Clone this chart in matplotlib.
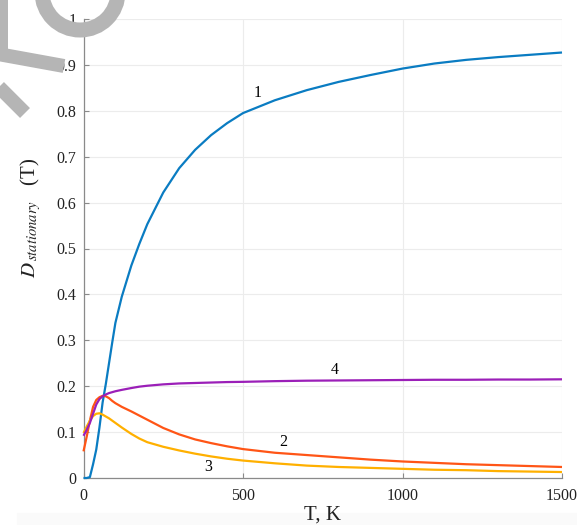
import matplotlib.pyplot as plt
from matplotlib.lines import Line2D
from matplotlib.patches import Rectangle, Ellipse
from matplotlib.ticker import FuncFormatter

plt.rcParams['font.family'] = ['Liberation Serif', 'DejaVu Serif']
plt.rcParams['mathtext.fontset'] = 'stix'

W, H = 577, 525

# temperature grid, K
T = [0, 10, 20, 30, 40, 50, 60, 70, 80, 90, 100, 120, 150, 175, 200, 250, 300,
     350, 400, 450, 500, 600, 700, 800, 900, 1000, 1100, 1200, 1300, 1400, 1500]

# stationary values for the four cases
D1 = [0, 0, 0.002, 0.03, 0.062, 0.11, 0.165, 0.205, 0.25, 0.295, 0.338, 0.395,
      0.463, 0.51, 0.553, 0.622, 0.675, 0.715, 0.747, 0.773, 0.795, 0.823, 0.845,
      0.863, 0.878, 0.892, 0.903, 0.911, 0.917, 0.922, 0.927]
D2 = [0.058, 0.09, 0.125, 0.155, 0.17, 0.176, 0.179, 0.178, 0.174, 0.168, 0.163,
      0.155, 0.145, 0.136, 0.127, 0.109, 0.095, 0.084, 0.076, 0.069, 0.063, 0.055,
      0.05, 0.045, 0.04, 0.036, 0.033, 0.03, 0.028, 0.026, 0.024]
D3 = [0.098, 0.112, 0.125, 0.135, 0.14, 0.141, 0.138, 0.134, 0.13, 0.125, 0.12,
      0.11, 0.096, 0.086, 0.078, 0.068, 0.06, 0.053, 0.047, 0.042, 0.038, 0.032,
      0.027, 0.024, 0.022, 0.02, 0.018, 0.017, 0.015, 0.014, 0.013]
D4 = [0.092, 0.105, 0.12, 0.14, 0.16, 0.172, 0.178, 0.182, 0.185, 0.187, 0.189,
      0.192, 0.196, 0.199, 0.201, 0.204, 0.206, 0.207, 0.208, 0.209, 0.2095,
      0.211, 0.212, 0.2125, 0.213, 0.2135, 0.214, 0.214, 0.2145, 0.2145, 0.215]

curves = [D1, D2, D3, D4]
colors = ['#0a7cc2', '#ff5516', '#ffb000', '#9b1fb8']
labels = ['1', '2', '3', '4']
label_pos = [(547, 0.839), (625, 0.078), (390, 0.024), (788, 0.235)]

xticks = [0, 500, 1000, 1500]
yticks = [0, 0.1, 0.2, 0.3, 0.4, 0.5, 0.6, 0.7, 0.8, 0.9, 1.0]


def fx(px):
    return px / W


def fy(py):
    return 1 - py / H


def main():
    fig = plt.figure(figsize=(W / 100, H / 100), dpi=100)
    fig.add_artist(Rectangle((fx(17), 0), 1, fy(513), transform=fig.transFigure,
                             color='#fafafa', zorder=-10))

    ax = fig.add_axes([fx(83.5), fy(478), fx(562) - fx(83.5), fy(19) - fy(478)])
    ax.set_facecolor('none')

    for d, c in zip(curves, colors):
        ax.plot(T, d, color=c, lw=1.6, solid_capstyle='butt', clip_on=False, zorder=3)

    for lab, (x, y) in zip(labels, label_pos):
        ax.text(x, y, lab, fontsize=11.5, ha='center', va='center')

    ax.set_xlim(0, 1500)
    ax.set_ylim(0, 1)
    ax.set_xticks(xticks)
    ax.set_yticks(yticks)
    ax.yaxis.set_major_formatter(FuncFormatter(lambda v, p: '%g' % v))
    ax.grid(True, color='#ececec', lw=0.8)
    ax.set_axisbelow(True)
    for s in ['top', 'right']:
        ax.spines[s].set_visible(False)
    for s in ['left', 'bottom']:
        ax.spines[s].set_color('#8a8a8a')
        ax.spines[s].set_linewidth(0.9)
    ax.tick_params(direction='in', length=3.5, color='#8a8a8a', labelsize=11.5,
                   labelcolor='#222222', pad=5)
    ax.tick_params(axis='x', pad=7)

    ax.set_xlabel('T, K', fontsize=15, labelpad=1, color='#222222')
    fig.text(fx(31), fy(218), r'$D_{\,stationary}$   (T)', rotation=90,
             fontsize=15, ha='center', va='center', color='#222222')

    # grey stamp strokes in the top-left corner
    g = '#b5b5b5'
    fig.add_artist(Ellipse((fx(80), fy(-8)), 2 * 38 / W, 2 * 38 / H, fill=False,
                           ec=g, lw=15 * 0.72, transform=fig.transFigure, zorder=10))
    for (x0, y0), (x1, y1), w in [((2, -5), (2, 58), 11),
                                  ((-2, 54), (64, 66), 14),
                                  ((-2, 86), (25, 113), 14)]:
        fig.add_artist(Line2D([fx(x0), fx(x1)], [fy(y0), fy(y1)], color=g,
                              lw=w * 0.72, solid_capstyle='butt',
                              transform=fig.transFigure, zorder=10))

    fig.savefig('out.png', dpi=100)


if __name__ == "__main__":
    main()
